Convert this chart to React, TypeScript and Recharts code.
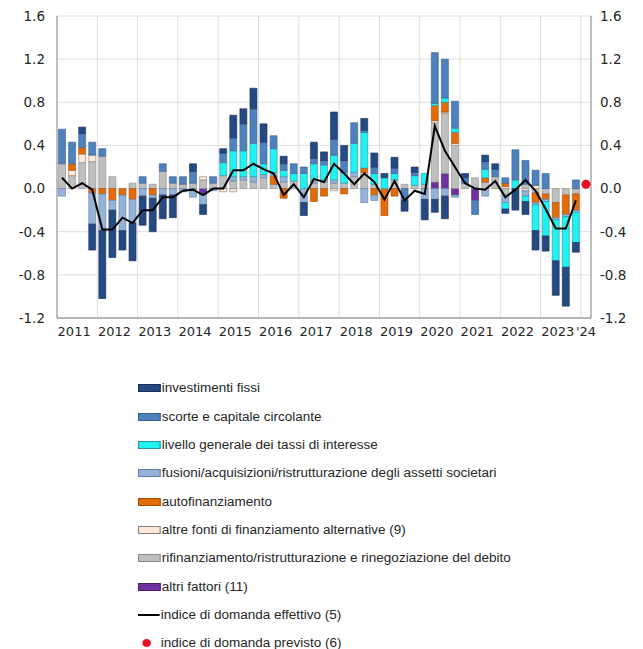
import React from 'react'
import {
  ComposedChart, Bar, Line, XAxis, YAxis, CartesianGrid,
} from 'recharts'

// quarters 2011Q1 .. 2023Q4 (52 bars) + 2024Q1 (forecast only)
const YEARS = ['2011', '2012', '2013', '2014', '2015', '2016', '2017', '2018', '2019', '2020', '2021', '2022', '2023']
const LAST_LABEL = "'24"

const investimenti = [0, 0, 0.06, -0.24, -0.63, -0.44, -0.18, -0.35, -0.27, -0.31, -0.22, -0.21, 0, 0.07, -0.09, 0, 0.04, 0.21, 0.14, 0.19, 0.17, 0, 0.07, 0, -0.12, 0.15, 0.08, 0.25, 0.14, 0, 0.11, 0.13, 0.04, 0.1, -0.1, 0.05, -0.19, -0.12, -0.21, 0, 0.04, 0, 0.06, 0.05, -0.04, -0.2, -0.12, -0.18, -0.14, -0.32, -0.36, -0.09]
const scorte = [0.32, 0.2, 0.13, 0.12, 0.07, 0, 0, 0, 0.06, 0, 0.07, 0.06, 0.07, 0.11, 0, 0.06, 0.09, 0.12, 0.25, 0.32, 0.2, 0.12, 0.06, 0.09, 0.06, 0.05, 0.04, 0.15, 0.11, 0.19, 0.02, 0.06, 0, 0.05, -0.11, 0.03, 0, 0.47, 0.36, 0.25, 0.05, -0.13, 0.07, 0.07, 0.05, 0.28, 0.22, 0.14, 0.14, 0, 0, 0.08]
const tassi = [0, 0, 0, 0, 0, 0, 0, 0, 0, 0, 0, 0, 0, 0, 0, 0, 0.12, 0.24, 0.24, 0.31, 0.1, 0.22, 0.06, 0.07, 0.14, 0.15, 0.14, 0.23, 0.1, 0.27, 0.33, 0.1, 0.1, 0.06, 0, 0.09, 0.1, 0.02, 0.04, 0.04, 0, 0, 0.08, 0, -0.06, 0.08, -0.05, -0.24, -0.32, -0.38, -0.47, -0.28]
const fusioni = [-0.07, 0, 0, -0.29, -0.34, -0.09, -0.33, -0.22, -0.07, -0.03, -0.06, -0.06, -0.03, -0.08, -0.1, -0.02, 0, 0.04, 0.03, 0.05, 0.03, 0.03, 0.05, 0, -0.13, 0.03, 0.02, 0.03, 0, 0.04, -0.13, -0.05, 0, 0, 0, 0, -0.1, -0.1, -0.07, -0.02, 0, 0, -0.07, 0, -0.07, 0, -0.05, -0.02, -0.02, -0.02, -0.02, -0.02]
const autofin = [0, 0.06, 0.06, -0.04, -0.05, -0.11, -0.06, -0.1, 0, -0.06, 0, 0, 0, 0, 0, 0, 0, 0, 0, 0, 0, 0.08, -0.09, 0, 0, -0.12, -0.07, 0, -0.05, 0, 0.04, -0.06, -0.25, -0.07, 0, 0, 0, 0.14, 0.09, 0.1, 0, 0, 0.04, 0, 0.03, 0, 0, -0.09, -0.05, -0.14, -0.18, -0.15]
const altreFonti = [0, 0.05, 0.08, 0.06, 0, 0, 0, 0, 0, 0, 0, 0, 0, 0, 0.03, 0, -0.03, -0.03, 0, 0, 0, 0, 0, 0, 0, 0, 0, -0.02, 0, 0, 0.02, 0, 0, 0, 0, 0, 0, 0.02, 0.01, 0.02, 0, 0, 0, 0, 0.02, 0, -0.02, 0.03, 0, 0, 0, 0]
const rifinanz = [0.23, 0.12, 0.24, 0.25, 0.3, 0.11, 0, 0.05, 0.05, 0.04, 0.16, 0.05, 0.04, 0.05, 0.08, 0.05, 0.12, 0.07, 0.08, 0.06, 0.1, 0.04, 0.06, 0.07, 0, 0.05, 0.06, 0.05, 0.05, 0.11, 0.13, 0.04, 0, 0.08, 0.04, 0.03, 0.04, 0.55, 0.56, 0.4, 0.05, 0.1, 0.06, 0.11, -0.06, 0, 0.04, -0.04, -0.05, -0.13, -0.06, -0.05]
const altri = [0, 0, 0, 0, 0, 0, 0, 0, 0, 0, 0, 0, 0, 0, -0.05, 0, 0, 0, 0, 0, 0, 0, 0, 0, 0, 0, 0, 0, 0, 0, 0, 0, 0, 0, 0, 0, 0, 0.06, 0.14, -0.06, 0, -0.11, 0, 0, 0, 0, 0, 0, 0, 0, 0, 0]
const effettivo = [0.1, 0, 0.05, -0.01, -0.38, -0.38, -0.27, -0.32, -0.2, -0.2, -0.08, -0.08, -0.02, -0.01, -0.06, 0, 0, 0.17, 0.17, 0.23, 0.18, 0.14, -0.06, 0.04, -0.08, 0.09, 0.06, 0.23, 0.14, 0.04, 0.14, 0.06, -0.1, 0.07, -0.11, -0.02, -0.05, 0.58, 0.35, 0.2, 0.05, 0, -0.01, 0.07, -0.08, -0.01, 0.08, -0.02, -0.19, -0.37, -0.37, -0.11]
const previsto = 0.04

const Y_TICKS = [-1.2, -0.8, -0.4, 0, 0.4, 0.8, 1.2, 1.6]

// stacking order (bottom up) is the reverse of the legend
const SERIES = [
  { key: 'altri', name: 'altri fattori (11)', fill: '#7030a0', stroke: '#4b1f6e', values: altri },
  { key: 'rifinanz', name: 'rifinanziamento/ristrutturazione e rinegoziazione del debito', fill: '#bfbfbf', stroke: '#8c8c8c', values: rifinanz },
  { key: 'altreFonti', name: 'altre fonti di finanziamento alternative (9)', fill: '#fde9d9', stroke: '#8c7c74', values: altreFonti },
  { key: 'autofin', name: 'autofinanziamento', fill: '#e36c0a', stroke: '#a34d06', values: autofin },
  { key: 'fusioni', name: 'fusioni/acquisizioni/ristrutturazione degli assetti societari', fill: '#95b3d7', stroke: '#5d7ea6', values: fusioni },
  { key: 'tassi', name: 'livello generale dei tassi di interesse', fill: '#1ff2f2', stroke: '#2a8f9a', values: tassi },
  { key: 'scorte', name: 'scorte e capitale circolante', fill: '#4f81bd', stroke: '#35608f', values: scorte },
  { key: 'investimenti', name: 'investimenti fissi', fill: '#254a82', stroke: '#172f55', values: investimenti },
]

const N = YEARS.length * 4 + 1
const data = Array.from({ length: N }, (_, i) => {
  const row: Record<string, any> = { q: i < N - 1 ? `${YEARS[Math.floor(i / 4)]}Q${(i % 4) + 1}` : '2024Q1' }
  for (const s of SERIES) row[s.key] = i < N - 1 ? s.values[i] : null
  row.effettivo = i < N - 1 ? effettivo[i] : null
  row.previsto = i === N - 1 ? previsto : null
  return row
})

const CHART_W = 630
const CHART_H = 345
const LEFT_W = 49
const RIGHT_W = 40
const MARGIN = { top: 8, right: 7, left: 0, bottom: 5 }
const PLOT_W = CHART_W - LEFT_W - RIGHT_W - MARGIN.right - MARGIN.left
const BAND = PLOT_W / N

const FONT = '"Liberation Sans", Arial, sans-serif'
const AXIS_FONT = '"DejaVu Sans", sans-serif'
const TEXT = '#262626'

// year label sits between Q2 and Q3 (a touch to the left, as in the source)
const YearTick = (props: any) => {
  const { x, y, index } = props
  let label: string | null = null
  let dx = 0
  if (index === N - 1) label = LAST_LABEL
  else if (index % 4 === 1) { label = YEARS[Math.floor(index / 4)]; dx = BAND / 2 - 3 }
  if (!label) return <g />
  return (
    <text x={x + dx} y={y} dy="0.71em" textAnchor="middle" fontSize={13} fontFamily={AXIS_FONT} fill={TEXT}>{label}</text>
  )
}

const RedDot = (props: any) => {
  const { cx, cy, value, index } = props
  if (value == null || cy == null) return <g key={index} />
  return <circle key={index} cx={cx} cy={cy} r={4.5} fill="#e8101e" />
}

const LEGEND = [...SERIES].reverse()

export default function App() {
  return (
    <div style={{ position: 'relative', width: 635, height: 641, fontFamily: FONT }}>
      <ComposedChart width={CHART_W} height={CHART_H} data={data} margin={MARGIN}
        stackOffset="sign" barCategoryGap="15%">
        <CartesianGrid stroke="#dedede" strokeWidth={1}
          horizontalValues={Y_TICKS}
          verticalCoordinatesGenerator={({ offset }: any) =>
            Array.from({ length: YEARS.length }, (_, k) => offset.left + (k + 1) * 4 * (offset.width / N))} />
        <XAxis dataKey="q" interval={0} tick={<YearTick />} tickLine={false} tickSize={0} tickMargin={9}
          axisLine={{ stroke: '#7f7f7f' }} height={30} />
        <XAxis xAxisId="top" dataKey="q" orientation="top" tick={false} tickLine={false} height={0}
          axisLine={{ stroke: '#7f7f7f' }} />
        <YAxis domain={[-1.2, 1.6]} ticks={Y_TICKS} width={LEFT_W} tickFormatter={(v: number) => v.toFixed(1)}
          tickLine={false} tickSize={0} tickMargin={12} axisLine={{ stroke: '#7f7f7f' }}
          tick={{ fontSize: 13.5, fill: TEXT, fontFamily: AXIS_FONT }} interval={0} allowDataOverflow />
        <YAxis yAxisId="right" orientation="right" domain={[-1.2, 1.6]} ticks={Y_TICKS} width={RIGHT_W}
          tickFormatter={(v: number) => v.toFixed(1)} tickLine={false} tickSize={0} tickMargin={9}
          axisLine={{ stroke: '#7f7f7f' }} tick={{ fontSize: 13.5, fill: TEXT, fontFamily: AXIS_FONT, textAnchor: 'start' }}
          interval={0} allowDataOverflow />
        {SERIES.map(s => (
          <Bar key={s.key} dataKey={s.key} name={s.name} stackId="a" fill={s.fill} stroke={s.stroke}
            strokeWidth={0.6} isAnimationActive={false} />
        ))}
        <Line dataKey="effettivo" stroke="#000" strokeWidth={2} dot={false} isAnimationActive={false} />
        <Line dataKey="previsto" stroke="none" dot={<RedDot />} activeDot={false} isAnimationActive={false} />
      </ComposedChart>

      {/* Legend (slightly stretched horizontally like the source image) */}
      <div style={{ position: 'absolute', left: 130, top: 366, fontSize: 12.5, color: TEXT, transform: 'scaleX(1.08)', transformOrigin: 'left top', whiteSpace: 'nowrap' }}>
        {LEGEND.map(s => (
          <div key={s.key} style={{ display: 'flex', alignItems: 'center', height: 28.35 }}>
            <span style={{ width: 19, height: 6, background: s.fill, border: `1px solid ${s.stroke}`, marginRight: 1 }} />
            {s.name}
          </div>
        ))}
        <div style={{ display: 'flex', alignItems: 'center', height: 28.35 }}>
          <span style={{ width: 20, height: 2, background: '#000', marginRight: 1 }} />
          indice di domanda effettivo (5)
        </div>
        <div style={{ display: 'flex', alignItems: 'center', height: 28.35 }}>
          <span style={{ width: 20, display: 'flex', justifyContent: 'center', marginRight: 1 }}>
            <span style={{ width: 8, height: 8, borderRadius: '50%', background: '#e8101e', marginLeft: -4 }} />
          </span>
          indice di domanda previsto (6)
        </div>
      </div>
    </div>
  )
}
